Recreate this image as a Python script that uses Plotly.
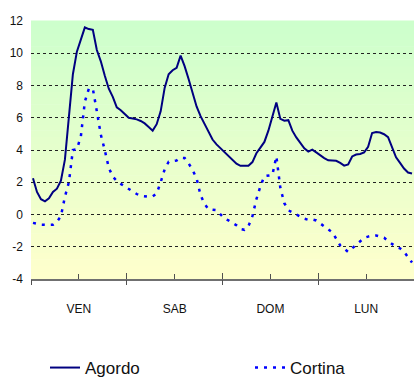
import plotly.graph_objects as go

# hourly readings, Friday 00:00 -> Monday 23:00 (point at the middle of each hour)
hours = [h + 0.5 for h in range(96)]

agordo = [
    2.25, 1.4, 0.95, 0.82, 1.0, 1.4, 1.6, 2.1, 3.4, 6.1, 8.7, 10.1,
    10.9, 11.6, 11.5, 11.45, 10.2, 9.5, 8.6, 7.8, 7.3, 6.65, 6.47, 6.25,
    6.0, 5.95, 5.9, 5.8, 5.65, 5.43, 5.2, 5.6, 6.4, 7.85, 8.7, 8.95,
    9.1, 9.85, 9.2, 8.4, 7.5, 6.7, 6.1, 5.6, 5.1, 4.65, 4.35, 4.1,
    3.9, 3.65, 3.4, 3.15, 3.02, 3.0, 3.02, 3.25, 3.8, 4.15, 4.5, 5.2,
    6.1, 6.95, 5.93, 5.82, 5.85, 5.2, 4.78, 4.4, 4.1, 3.9, 4.02, 3.85,
    3.66, 3.5, 3.36, 3.35, 3.33, 3.2, 3.03, 3.1, 3.6, 3.72, 3.75, 3.85,
    4.2, 5.05, 5.11, 5.08, 4.98, 4.8, 4.2, 3.55, 3.2, 2.85, 2.6, 2.54,
]

cortina = [
    -0.52, -0.58, -0.63, -0.64, -0.63, -0.63, -0.45, -0.1, 1.1, 2.0, 4.0, 4.05,
    4.85, 7.0, 7.8, 7.8, 6.4, 4.95, 3.98, 2.9, 2.35, 2.08, 1.9, 1.75,
    1.58, 1.4, 1.27, 1.16, 1.12, 1.1, 1.12, 1.3, 2.0, 2.8, 3.27, 3.3,
    3.35, 3.52, 3.5, 3.17, 2.76, 2.25, 1.2, 0.65, 0.32, 0.3, 0.27, 0.0,
    -0.25, -0.37, -0.5, -0.67, -0.9, -0.95, -0.72, -0.1, 0.95, 1.75, 2.38, 2.41,
    2.45, 3.6, 1.65, 0.7, 0.26, 0.13, 0.0, -0.12, -0.26, -0.33, -0.31, -0.37,
    -0.55, -0.75, -0.92, -1.1, -1.5, -1.92, -2.12, -2.32, -2.1, -1.87, -1.65, -1.45,
    -1.37, -1.31, -1.3, -1.36, -1.44, -1.65, -1.85, -2.0, -2.1, -2.3, -2.65, -2.98,
]

days = ["VEN", "SAB", "DOM", "LUN"]
day_mid = [12, 36, 60, 84]
day_start = [0, 24, 48, 72]
y_ticks = [-4, -2, 0, 2, 4, 6, 8, 10, 12]

FONT = "Liberation Sans, Arial, sans-serif"
TICK = "#505050"
W, H = 414, 378

fig = go.Figure()
fig.add_trace(go.Scatter(x=hours, y=agordo, name="Agordo", mode="lines",
                         line=dict(color="#000080", width=2), legend="legend"))
fig.add_trace(go.Scatter(x=hours, y=cortina, name="Cortina", mode="lines",
                         line=dict(color="#0000ff", width=2.5, dash="3px,6px"),
                         legend="legend2"))
# empty traces so the overlay axes (crossing day ticks) get drawn
fig.add_trace(go.Scatter(x=[], y=[], xaxis="x2", showlegend=False))
fig.add_trace(go.Scatter(x=[], y=[], xaxis="x3", showlegend=False))

# green -> yellow background gradient made of thin bands
n = 40
top, bottom = (204, 255, 204), (255, 255, 204)
for i in range(n):
    t = (i + 0.5) / n
    c = [round(bottom[j] + (top[j] - bottom[j]) * t) for j in range(3)]
    fig.add_shape(type="rect", xref="x domain", yref="y domain",
                  x0=0, x1=1, y0=i / n, y1=(i + 1) / n + 0.002,
                  fillcolor=f"rgb({c[0]},{c[1]},{c[2]})", line_width=0, layer="below")

leg = dict(orientation="h", xref="container", yref="container", yanchor="middle",
           y=1 - 368 / H, xanchor="left", font=dict(size=17, family=FONT),
           itemwidth=30, bgcolor="rgba(0,0,0,0)")

fig.update_layout(
    width=W, height=H,
    margin=dict(l=31, r=0, t=21, b=99),
    paper_bgcolor="white", plot_bgcolor="rgba(0,0,0,0)",
    font=dict(family=FONT, color="#111"),
    showlegend=True,
    legend=dict(leg, x=45 / W),
    legend2=dict(leg, x=250 / W),
    xaxis=dict(range=[0, 96], showgrid=False, zeroline=False, automargin=False,
               showline=True, linecolor="#707070", linewidth=1.5,
               tickmode="array", tickvals=day_mid, ticktext=days,
               ticks="inside", ticklen=5, tickcolor=TICK, tickwidth=1,
               ticklabelstandoff=18, tickfont=dict(size=12)),
    xaxis2=dict(range=[0, 96], overlaying="x", side="bottom", anchor="y",
                showgrid=False, zeroline=False, showline=False, automargin=False,
                tickmode="array", tickvals=day_start, showticklabels=False,
                ticks="inside", ticklen=6, tickcolor=TICK, tickwidth=1),
    xaxis3=dict(range=[0, 96], overlaying="x", side="bottom", anchor="y",
                showgrid=False, zeroline=False, showline=False, automargin=False,
                tickmode="array", tickvals=day_start, showticklabels=False,
                ticks="outside", ticklen=5, tickcolor=TICK, tickwidth=1),
    yaxis=dict(range=[-4, 12], tickmode="array", tickvals=y_ticks,
               ticktext=[str(v) for v in y_ticks], tickfont=dict(size=12),
               showgrid=True, gridcolor="#222", griddash="3px,3px", gridwidth=1,
               zeroline=False, showline=False, ticks="", ticklabelstandoff=7,
               automargin=False),
)

# drop the default page margin so the figure sits at the window's corner
fig.write_html("out.html", config={"displayModeBar": False},
               post_script="document.body.style.margin='0';document.body.style.overflow='hidden';")
